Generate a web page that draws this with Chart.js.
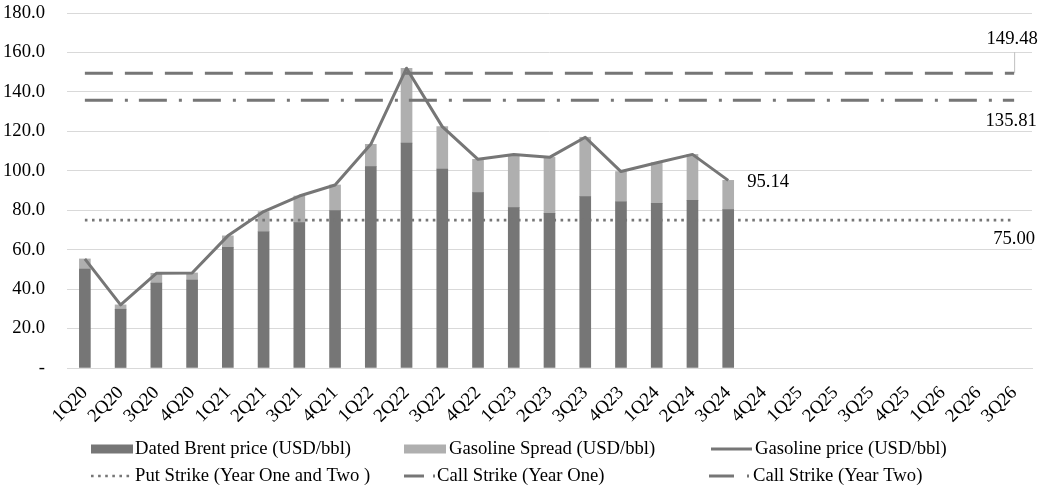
<!DOCTYPE html>
<html>
<head>
<meta charset="utf-8">
<script src="https://cdn.jsdelivr.net/npm/chart.js@4/dist/chart.umd.min.js"></script>
<style>
  html, body { margin: 0; padding: 0; background: #fff; }
  canvas { display: block; }
</style>
</head>
<body>
<canvas id="chart" width="1040" height="488"></canvas>
<script>
// Quarterly categories
const quarters = ['1Q20','2Q20','3Q20','4Q20','1Q21','2Q21','3Q21','4Q21','1Q22','2Q22','3Q22','4Q22',
                  '1Q23','2Q23','3Q23','4Q23','1Q24','2Q24','3Q24','4Q24','1Q25','2Q25','3Q25','4Q25',
                  '1Q26','2Q26','3Q26'];

// USD/bbl, 1Q20 .. 3Q24
const datedBrent     = [50.2, 29.8, 43.0, 44.6, 61.2, 69.1, 73.7, 79.8, 102.1, 114.0, 100.9, 88.9,
                        81.3, 78.4, 86.9, 84.3, 83.5, 85.0, 80.3];
const gasolineSpread = [5.1, 2.2, 5.0, 3.6, 5.8, 10.2, 13.5, 13.0, 11.3, 38.0, 21.5, 16.9,
                        27.0, 28.4, 30.1, 15.3, 20.6, 23.3, 14.84];
const gasolinePrice  = [55.3, 32.0, 48.0, 48.2, 67.0, 79.3, 87.2, 92.8, 113.4, 152.0, 122.4, 105.8,
                        108.3, 106.8, 117.0, 99.6, 104.1, 108.3, 95.14];

// Strike levels
const putStrike = 75.00;
const callStrikeYearOne = 149.48;
const callStrikeYearTwo = 135.81;

// Value axis ticks
const yTicks = [0, 20, 40, 60, 80, 100, 120, 140, 160, 180];

const DARK = '#767676';
const LIGHT = '#afafaf';
const LINE = '#767676';
const GRID = '#d9d9d9';
const FONT = "'Liberation Serif', 'Times New Roman', serif";
const FONT_SIZE = 18.67;

const firstQ = quarters[0];
const lastQ = quarters[quarters.length - 1];

function strikeSegment(level) {
  return [{ x: firstQ, y: level }, { x: lastQ, y: level }];
}

// Value labels on the last point of the price and strike lines
const valueLabels = {
  id: 'valueLabels',
  afterDatasetsDraw(chart) {
    const ctx = chart.ctx;
    ctx.save();
    ctx.font = FONT_SIZE + 'px ' + FONT;
    ctx.fillStyle = '#000';
    ctx.textBaseline = 'middle';

    // gasoline price – last reported quarter
    const gMeta = chart.getDatasetMeta(2);
    const gi = gasolinePrice.length - 1;
    const gp = gMeta.data[gi];
    ctx.textAlign = 'left';
    ctx.fillText(gasolinePrice[gi].toFixed(2), gp.x + 19, gp.y + 2);

    ctx.textAlign = 'center';
    // put strike, below the line end
    const pEnd = chart.getDatasetMeta(3).data[1];
    ctx.fillText(putStrike.toFixed(2), pEnd.x, pEnd.y + 19);

    // call strike year one, above with a leader line
    const c1End = chart.getDatasetMeta(4).data[1];
    ctx.strokeStyle = '#bfbfbf';
    ctx.lineWidth = 1;
    ctx.beginPath();
    ctx.moveTo(c1End.x + 0.5, c1End.y);
    ctx.lineTo(c1End.x + 0.5, c1End.y - 21);
    ctx.stroke();
    ctx.fillText(callStrikeYearOne.toFixed(2), c1End.x - 2, c1End.y - 34);

    // call strike year two, below the line end
    const c2End = chart.getDatasetMeta(5).data[1];
    ctx.fillText(callStrikeYearTwo.toFixed(2), c2End.x - 3, c2End.y + 21);
    ctx.restore();
  }
};

// Two-row legend below the axis
const bottomLegend = {
  id: 'bottomLegend',
  afterDraw(chart) {
    const ctx = chart.ctx;
    const ds = chart.data.datasets;
    const rows = [449, 476];
    const cols = [91, 404, 709];
    const items = [
      { i: 0, col: 0, row: 0, kind: 'box', textX: 44 },
      { i: 1, col: 1, row: 0, kind: 'box', textX: 45 },
      { i: 2, col: 2, row: 0, kind: 'line', segs: [[2, 43]], textX: 46 },
      { i: 3, col: 0, row: 1, kind: 'line', segs: [[0, 42]], textX: 44 },
      { i: 4, col: 1, row: 1, kind: 'line', segs: [[0, 20], [29, 31]], textX: 33 },
      { i: 5, col: 2, row: 1, kind: 'line', segs: [[0, 25], [38, 40]], textX: 44 }
    ];
    ctx.save();
    ctx.font = FONT_SIZE + 'px ' + FONT;
    ctx.textBaseline = 'middle';
    ctx.textAlign = 'left';
    items.forEach(it => {
      const d = ds[it.i];
      const x0 = cols[it.col];
      const y = rows[it.row];
      if (it.kind === 'box') {
        ctx.fillStyle = d.backgroundColor;
        ctx.fillRect(x0, y - 4.5, 42, 9);
      } else {
        ctx.strokeStyle = d.borderColor;
        ctx.lineWidth = d.borderWidth;
        if (it.i === 3) {
          ctx.setLineDash(d.borderDash);
        } else {
          ctx.setLineDash([]);
        }
        it.segs.forEach(s => {
          ctx.beginPath();
          ctx.moveTo(x0 + s[0], y);
          ctx.lineTo(x0 + s[1], y);
          ctx.stroke();
        });
        ctx.setLineDash([]);
      }
      ctx.fillStyle = '#000';
      ctx.fillText(d.label, x0 + it.textX, y);
    });
    ctx.restore();
  }
};

Chart.defaults.font.family = FONT;
Chart.defaults.font.size = FONT_SIZE;
Chart.defaults.color = '#000';

new Chart(document.getElementById('chart'), {
  type: 'bar',
  data: {
    labels: quarters,
    datasets: [
      {
        type: 'bar', label: 'Dated Brent price (USD/bbl)', data: datedBrent,
        backgroundColor: DARK, stack: 'price', order: 2, barThickness: 11
      },
      {
        type: 'bar', label: 'Gasoline Spread (USD/bbl)', data: gasolineSpread,
        backgroundColor: LIGHT, stack: 'price', order: 2, barThickness: 11
      },
      {
        type: 'line', label: 'Gasoline price (USD/bbl)', data: gasolinePrice,
        borderColor: LINE, borderWidth: 3, pointRadius: 0, tension: 0, fill: false,
        stack: 'gasoline', order: 0, borderJoinStyle: 'round'
      },
      {
        type: 'line', label: 'Put Strike (Year One and Two )', data: strikeSegment(putStrike),
        borderColor: LINE, borderWidth: 2.6, borderDash: [2.6, 4.5], pointRadius: 0,
        fill: false, stack: 'put', order: 1
      },
      {
        type: 'line', label: 'Call Strike (Year One)', data: strikeSegment(callStrikeYearOne),
        borderColor: LINE, borderWidth: 3, borderDash: [28, 12], pointRadius: 0,
        fill: false, stack: 'call1', order: 1
      },
      {
        type: 'line', label: 'Call Strike (Year Two)', data: strikeSegment(callStrikeYearTwo),
        borderColor: LINE, borderWidth: 3, borderDash: [28, 12, 3, 11], pointRadius: 0,
        fill: false, stack: 'call2', order: 1
      }
    ]
  },
  options: {
    responsive: false,
    animation: false,
    devicePixelRatio: 1,
    layout: { padding: { top: 13, right: 8, left: 0, bottom: 0 } },
    plugins: {
      legend: { display: false },
      tooltip: { enabled: false }
    },
    scales: {
      x: {
        stacked: true,
        grid: { display: false },
        border: { display: true, color: GRID, width: 1 },
        ticks: {
          autoSkip: false, minRotation: 45, maxRotation: 45, padding: 6,
          font: { size: FONT_SIZE }, color: '#000'
        },
        afterFit(scale) {
          scale.height = 120;
          scale.paddingLeft = 0;
          scale.paddingRight = 0;
        }
      },
      y: {
        stacked: true,
        min: 0, max: 180,
        border: { display: false },
        grid: { color: GRID, drawTicks: false, lineWidth: 1 },
        afterBuildTicks(scale) { scale.ticks = yTicks.map(v => ({ value: v })); },
        ticks: {
          padding: 22, color: '#000',
          callback: v => (v === 0 ? '-' : Number(v).toFixed(1))
        },
        afterFit(scale) {
          scale.width = 67;
          scale.paddingTop = 0;
          scale.paddingBottom = 0;
        }
      }
    }
  },
  plugins: [valueLabels, bottomLegend]
});
</script>
</body>
</html>
